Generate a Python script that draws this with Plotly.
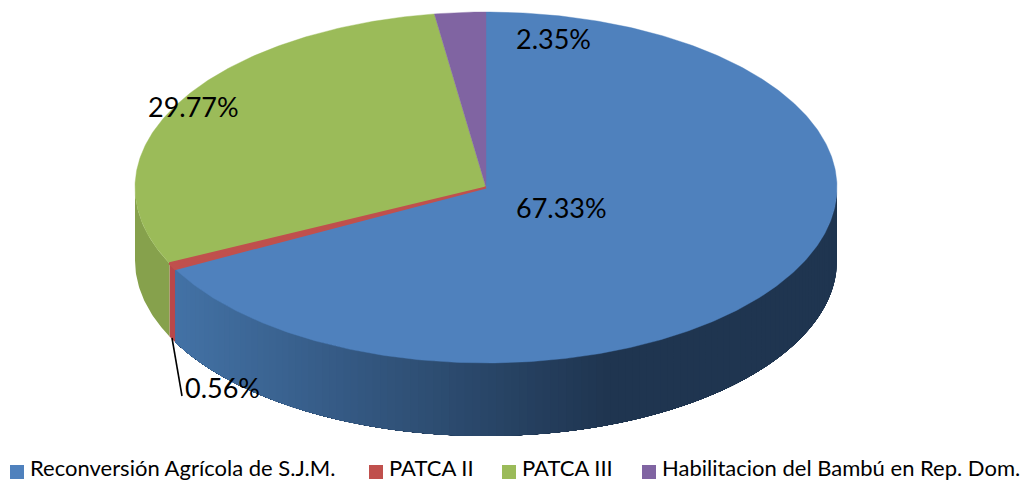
import numpy as np
import plotly.graph_objects as go

categories = ["Reconversión Agrícola de S.J.M.", "PATCA II", "PATCA III", "Habilitacion del Bambú en Rep. Dom."]
values = [67.33, 0.56, 29.77, 2.35]
top_colors = ["#4F81BD", "#C0504D", "#9BBB59", "#8064A2"]
side_colors = ["#4372A6", "#B8474A", "#86A14C", "#6F5690"]
side_dark = "#1F3550"
value_labels = ["67.33%", "0.56%", "29.77%", "2.35%"]
label_x = [561, 222, 193, 553]
label_y = [207, 387, 106.5, 38.5]
legend_swatch_x = [17, 376, 509, 649]
legend_text_x = [28, 387, 520, 660]

CX, CY, RX, RY, DEPTH = 486, 187.5, 351, 175.5, 73
FONT = "Lato"

def ex(t):
    return CX + RX * np.sin(t)

def ey(t):
    return CY - RY * np.cos(t)

def mix(c1, c2, f):
    a = [int(c1[i:i + 2], 16) for i in (1, 3, 5)]
    b = [int(c2[i:i + 2], 16) for i in (1, 3, 5)]
    return "rgb(%d,%d,%d)" % tuple(round(p + (q - p) * f) for p, q in zip(a, b))

fig = go.Figure()

def poly(xs, ys, color, width=0.0):
    fig.add_trace(go.Scatter(x=list(xs), y=list(ys), mode="lines", fill="toself",
                             fillcolor=color, line=dict(color=color, width=width),
                             hoverinfo="skip", showlegend=False))

cum = np.cumsum([0] + values) / sum(values) * 2 * np.pi
FRONT_START, FRONT_END = np.pi / 2, 3 * np.pi / 2

# extruded side wall, only the front half is visible
for i in range(len(values)):
    a, b = max(cum[i], FRONT_START), min(cum[i + 1], FRONT_END)
    if b <= a:
        continue
    if i == 0:
        edges = np.linspace(a, b, 120)
        # painted dark to light, each band runs on to the slice end so no seams show
        for t0 in edges[:-1]:
            f = np.clip((ex(t0) - 175) / (610 - 175), 0, 1)
            ts = np.linspace(t0, b, 50)
            xs = np.r_[ex(ts), ex(ts)[::-1]]
            ys = np.r_[ey(ts), ey(ts)[::-1] + DEPTH]
            poly(xs, ys, mix(side_colors[0], side_dark, f))
    else:
        ts = np.linspace(a, b, 40)
        poly(np.r_[ex(ts), ex(ts)[::-1]], np.r_[ey(ts), ey(ts)[::-1] + DEPTH], side_colors[i])

# top face; the thin slice goes last with a stroke so it stays visible
for i in sorted(range(len(values)), key=lambda k: -values[k]):
    ts = np.linspace(cum[i], cum[i + 1], max(4, int(values[i] * 6)))
    poly(np.r_[CX, ex(ts), CX], np.r_[CY, ey(ts), CY], top_colors[i], 2.2 if values[i] < 1 else 0.4)

# leader line of the smallest slice
fig.add_trace(go.Scatter(x=[172, 182], y=[338, 396], mode="lines",
                         line=dict(color="black", width=1.6), hoverinfo="skip", showlegend=False))

# legend swatches
for sx, c in zip(legend_swatch_x, top_colors):
    fig.add_trace(go.Scatter(x=[sx], y=[472], mode="markers",
                             marker=dict(symbol="square", size=14, color=c, line=dict(width=0)),
                             hoverinfo="skip", showlegend=False))

annotations = []
for t, x, y in zip(value_labels, label_x, label_y):
    annotations.append(dict(x=x, y=y, text=t, showarrow=False, xanchor="center", yanchor="middle",
                            font=dict(family=FONT, size=27, color="black")))
for t, x in zip(categories, legend_text_x):
    annotations.append(dict(x=x, y=467, text=t, showarrow=False, xanchor="left", yanchor="middle",
                            font=dict(family=FONT, size=22, color="black")))

fig.update_layout(
    width=1024, height=480,
    margin=dict(l=0, r=0, t=0, b=0, autoexpand=False),
    paper_bgcolor="white", plot_bgcolor="white",
    xaxis=dict(range=[0, 1024], visible=False, fixedrange=True),
    yaxis=dict(range=[480, 0], visible=False, fixedrange=True),
    annotations=annotations,
    showlegend=False,
)
fig.write_html("out.html", config=dict(displayModeBar=False),
               post_script="document.body.style.margin='0';document.body.style.overflow='hidden';")
